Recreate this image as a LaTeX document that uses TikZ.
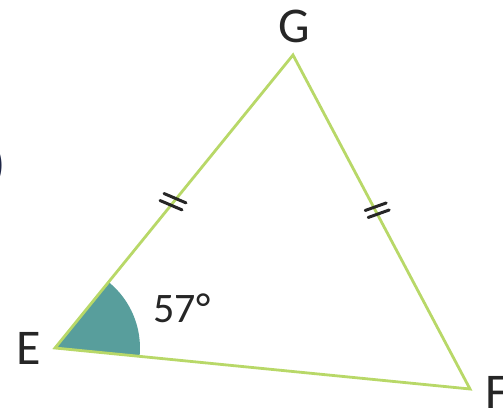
\documentclass[tikz,border=0pt]{standalone}
\usepackage{fontspec}
\setmainfont{Carlito}
\usetikzlibrary{calc}
\definecolor{sidegreen}{RGB}{184,216,104}
\definecolor{angleteal}{RGB}{88,158,156}
\definecolor{labelgray}{RGB}{38,38,38}
\definecolor{parennavy}{RGB}{30,38,70}

\begin{document}
\begin{tikzpicture}[x=1pt, y=-1pt]
  \useasboundingbox (0, 0) rectangle (503, 419);
  % 三角形 EGF：EG = GF
  \coordinate (E) at (55, 348);
  \coordinate (G) at (293, 55);
  \coordinate (F) at (470, 389);

  % 角 E 的扇形 57°
  \fill[angleteal] (E) -- ++(5.6:85) arc[start angle=5.6, end angle=-50.9, radius=85] -- cycle;

  \draw[sidegreen, line width=2.8pt, line join=miter] (E) -- (G) -- (F) -- cycle;

  % 等长记号
  \coordinate (mEG) at ($(E)!0.5!(G)$);
  \coordinate (mGF) at ($(G)!0.47!(F)$);
  \draw[labelgray, line width=3pt, line cap=round] ($(mEG)+(-10,-8)$) -- ++(22,9.4);
  \draw[labelgray, line width=3pt, line cap=round] ($(mEG)+(-14,-1)$) -- ++(22,9.4);
  \draw[labelgray, line width=3pt, line cap=round] ($(mGF)+(-11,-1.5)$) -- ++(21,-7.5);
  \draw[labelgray, line width=3pt, line cap=round] ($(mGF)+(-8,5.5)$) -- ++(21,-7.5);

  \node[labelgray, font=\fontsize{50}{50}\selectfont] (lG) at (294, 26) {G};
  \node[labelgray, font=\fontsize{50}{50}\selectfont] (lE) at (29, 348) {E};
  \node[labelgray, font=\fontsize{50}{50}\selectfont, anchor=north west, inner sep=0pt] (lF) at (485, 376) {F};
  \node[labelgray, font=\fontsize{42}{42}\selectfont] (lang) at (182, 308) {57°};
  \node[parennavy, font=\fontsize{50}{50}\selectfont, anchor=east, inner sep=0pt] (paren) at (6, 166) {)};
\end{tikzpicture}
\end{document}
